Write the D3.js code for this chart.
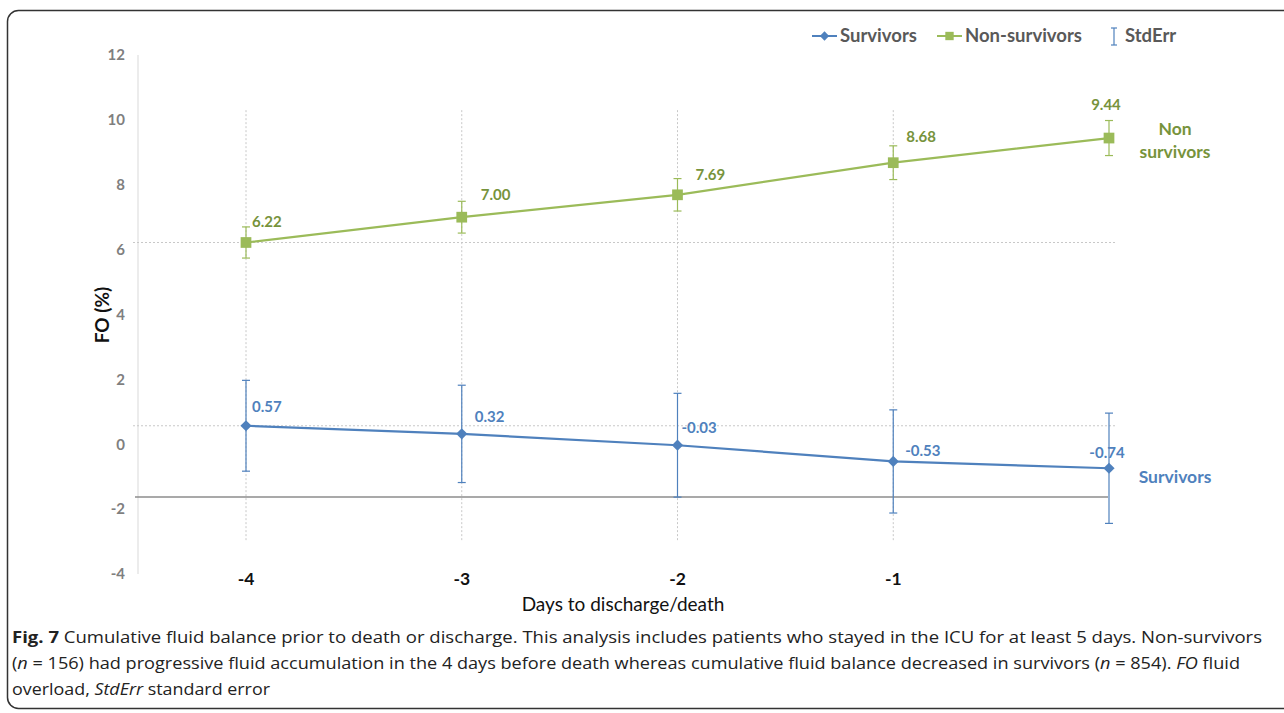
<!DOCTYPE html>
<html><head><meta charset="utf-8">
<script src="https://cdn.jsdelivr.net/npm/d3@7"></script>
<style>body{margin:0;background:#fff}svg{display:block}</style>
</head><body><svg id="c" width="1284" height="713"></svg>
<script>
// ---- data ----
const days = [-4, -3, -2, -1, 0];
const xTickLabels = ["-4", "-3", "-2", "-1"];
const yTicks = [-4, -2, 0, 2, 4, 6, 8, 10, 12];
const survivors = [0.57, 0.32, -0.03, -0.53, -0.74];
const survivorsSE = [1.40, 1.50, 1.60, 1.59, 1.70];
const nonSurvivors = [6.22, 7.00, 7.69, 8.68, 9.44];
const nonSurvivorsSE = [0.48, 0.49, 0.50, 0.52, 0.54];
const refDotted = [6.22, 0.57];
const refSolid = -1.63;

// ---- style / layout ----
const BLUE = "#4F81BD", GREEN = "#9BBB59", GREEN_T = "#77933C";
const FONT = "Lato, 'Open Sans', sans-serif";
const svg = d3.select("#c");
const x = d3.scaleLinear().domain([-4, 0]).range([246, 1109]);
const y = d3.scaleLinear().domain([-4, 12]).range([574, 55]);

// border
svg.append("rect").attr("x", 7.5).attr("y", 10.5).attr("width", 1320).attr("height", 698)
  .attr("rx", 11).attr("fill", "none").attr("stroke", "#333").attr("stroke-width", 1.5);

// y axis line
svg.append("line").attr("x1", 138).attr("x2", 138).attr("y1", y(12)).attr("y2", y(-4))
  .attr("stroke", "#d9d9d9").attr("stroke-width", 1);

// y ticks
svg.append("g").selectAll("text").data(yTicks).join("text")
  .attr("x", 125).attr("y", d => y(d)).attr("dy", "0.35em").attr("text-anchor", "end")
  .attr("font-family", FONT).attr("font-size", 15).attr("font-weight", 700).attr("fill", "#7f7f7f")
  .text(d => d);

// vertical gridlines
svg.append("g").selectAll("line").data(days.slice(0, 4)).join("line")
  .attr("x1", d => x(d)).attr("x2", d => x(d)).attr("y1", y(10.3)).attr("y2", y(-2.96))
  .attr("stroke", "#c8c8c8").attr("stroke-width", 1).attr("stroke-dasharray", "2,2");

// dotted horizontal refs
svg.append("g").selectAll("line").data(refDotted).join("line")
  .attr("x1", 133).attr("x2", 1115).attr("y1", d => y(d)).attr("y2", d => y(d))
  .attr("stroke", "#c8c8c8").attr("stroke-width", 1).attr("stroke-dasharray", "2,2");

// solid line
svg.append("line").attr("x1", 135).attr("x2", 1108).attr("y1", y(refSolid)).attr("y2", y(refSolid))
  .attr("stroke", "#8c8c8c").attr("stroke-width", 1.5);

// x tick labels
svg.append("g").selectAll("text").data(xTickLabels).join("text")
  .attr("x", (d, i) => x(days[i])).attr("y", 579).attr("dy", "0.35em").attr("text-anchor", "middle")
  .attr("font-family", FONT).attr("font-size", 17.5).attr("font-weight", 700).attr("fill", "#111")
  .text(d => d);

// axis titles
svg.append("text").attr("x", 623).attr("y", 604).attr("dy", "0.35em").attr("text-anchor", "middle")
  .attr("font-family", FONT).attr("font-size", 19).attr("fill", "#111").text("Days to discharge/death");
svg.append("text").attr("transform", "translate(102,315) rotate(-90)").attr("dy", "0.35em")
  .attr("text-anchor", "middle").attr("font-family", FONT).attr("font-size", 19).attr("font-weight", 700)
  .attr("fill", "#111").text("FO (%)");

function drawSeries(vals, se, color, marker, msize, labelColor, labelOff) {
  const g = svg.append("g");
  vals.forEach((v, i) => {
    const cx = x(days[i]);
    g.append("line").attr("x1", cx).attr("x2", cx).attr("y1", y(v + se[i])).attr("y2", y(v - se[i]))
      .attr("stroke", color).attr("stroke-width", 1.2);
    [v + se[i], v - se[i]].forEach(e => g.append("line").attr("x1", cx - 4).attr("x2", cx + 4)
      .attr("y1", y(e)).attr("y2", y(e)).attr("stroke", color).attr("stroke-width", 1.2));
  });
  g.append("path").datum(vals)
    .attr("d", d3.line().x((d, i) => x(days[i])).y(d => y(d)))
    .attr("fill", "none").attr("stroke", color).attr("stroke-width", 2.2);
  g.selectAll("path.m").data(vals).join("path").attr("class", "m")
    .attr("transform", (d, i) => `translate(${x(days[i])},${y(d)})`)
    .attr("d", d3.symbol().type(marker).size(msize))
    .attr("fill", color);
  g.selectAll("text").data(vals).join("text")
    .attr("x", (d, i) => x(days[i]) + labelOff[i][0]).attr("y", (d, i) => y(d) + labelOff[i][1])
    .attr("dy", "0.35em").attr("text-anchor", (d, i) => labelOff[i][2] || "start")
    .attr("font-family", FONT).attr("font-size", 15).attr("font-weight", 700).attr("fill", labelColor)
    .text(d => d.toFixed(2));
}
const nsOff = [[6, -21], [19, -22], [18, -20], [13, -26], [-3, -33, "middle"]];
const sOff = [[6, -19], [13, -17], [4, -17], [12, -11], [-2, -16, "middle"]];
drawSeries(nonSurvivors, nonSurvivorsSE, GREEN, d3.symbolSquare, 115, GREEN_T, nsOff);
drawSeries(survivors, survivorsSE, BLUE, d3.symbolDiamond2, 80, BLUE, sOff);

// series end labels
const endLab = svg.append("g").attr("font-family", FONT).attr("font-size", 17.5).attr("font-weight", 700)
  .attr("text-anchor", "middle");
endLab.append("text").attr("x", 1175).attr("y", 129).attr("dy", "0.35em").attr("fill", GREEN_T).text("Non");
endLab.append("text").attr("x", 1175).attr("y", 152).attr("dy", "0.35em").attr("fill", GREEN_T).text("survivors");
endLab.append("text").attr("x", 1175).attr("y", 477).attr("dy", "0.35em").attr("fill", BLUE).text("Survivors");

// legend
const lg = svg.append("g").attr("font-family", FONT).attr("font-size", 18.5).attr("font-weight", 700).attr("fill", "#595959");
lg.append("line").attr("x1", 812).attr("x2", 837).attr("y1", 36).attr("y2", 36).attr("stroke", BLUE).attr("stroke-width", 2);
lg.append("path").attr("transform", "translate(824.5,36)").attr("d", d3.symbol().type(d3.symbolDiamond2).size(55)).attr("fill", BLUE);
lg.append("text").attr("x", 840).attr("y", 36).attr("dy", "0.35em").text("Survivors");
lg.append("line").attr("x1", 937).attr("x2", 962).attr("y1", 36).attr("y2", 36).attr("stroke", GREEN).attr("stroke-width", 2);
lg.append("path").attr("transform", "translate(949.5,36)").attr("d", d3.symbol().type(d3.symbolSquare).size(70)).attr("fill", GREEN);
lg.append("text").attr("x", 965).attr("y", 36).attr("dy", "0.35em").text("Non-survivors");
lg.append("line").attr("x1", 1114).attr("x2", 1114).attr("y1", 28).attr("y2", 45).attr("stroke", BLUE).attr("stroke-width", 1.2);
lg.append("line").attr("x1", 1111).attr("x2", 1117).attr("y1", 28).attr("y2", 28).attr("stroke", BLUE).attr("stroke-width", 1.2);
lg.append("line").attr("x1", 1111).attr("x2", 1117).attr("y1", 45).attr("y2", 45).attr("stroke", BLUE).attr("stroke-width", 1.2);
lg.append("text").attr("x", 1125).attr("y", 36).attr("dy", "0.35em").text("StdErr");

// caption
const cap = svg.append("g").attr("font-family", "'Open Sans', sans-serif").attr("font-size", 16.5).attr("fill", "#222");
const capLines = [
  [[["Fig. 7", "b"], [" Cumulative fluid balance prior to death or discharge. This analysis includes patients who stayed in the ICU for at least 5 days. Non-survivors", ""]], 1250],
  [[["(", ""], ["n", "i"], [" = 156) had progressive fluid accumulation in the 4 days before death whereas cumulative fluid balance decreased in survivors (", ""], ["n", "i"], [" = 854). ", ""], ["FO", "i"], [" fluid", ""]], 1228],
  [[["overload, ", ""], ["StdErr", "i"], [" standard error", ""]], 258]
];
capLines.forEach((ln, li) => {
  const t = cap.append("text").attr("x", 12).attr("y", 643 + li * 26)
    .attr("textLength", ln[1]).attr("lengthAdjust", "spacingAndGlyphs");
  ln[0].forEach(([s, f]) => {
    const ts = t.append("tspan").text(s);
    if (f === "b") ts.attr("font-weight", 700);
    if (f === "i") ts.attr("font-style", "italic");
  });
});
</script></body></html>
